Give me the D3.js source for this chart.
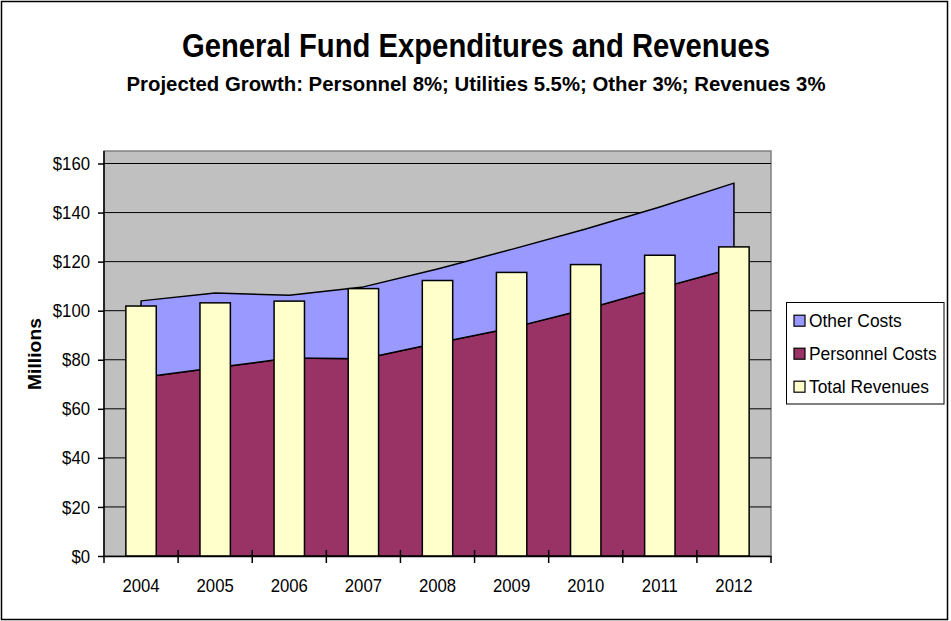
<!DOCTYPE html>
<html>
<head>
<meta charset="utf-8">
<script src="https://cdn.jsdelivr.net/npm/d3@7"></script>
<style>
  body { margin: 0; background: #fff; }
  svg { display: block; font-family: "Liberation Sans", Arial, sans-serif; }
</style>
</head>
<body>
<svg width="951" height="621"></svg>
<script>
// values in millions
var years = ["2004", "2005", "2006", "2007", "2008", "2009", "2010", "2011", "2012"];
var personnelCosts = [72.8, 76.7, 80.7, 80.4, 86.8, 93.0, 100.6, 109.2, 117.4];
var otherCosts = [31.2, 30.5, 25.6, 29.3, 30.2, 32.0, 32.7, 33.1, 34.6];
var totalRevenues = [101.9, 103.2, 103.9, 109.0, 112.3, 115.6, 118.8, 122.6, 126.0];
var yTicks = [0, 20, 40, 60, 80, 100, 120, 140, 160];
var legendNames = ["Other Costs", "Personnel Costs", "Total Revenues"];
var colors = {other: "#9999FF", personnel: "#993366", revenue: "#FFFFCC"};

var svg = d3.select("svg");

// the original text is a bit narrow, squeeze it horizontally
function squeeze(sel, k) {
  sel.each(function() {
    var w = this.getComputedTextLength();
    d3.select(this).attr("textLength", w * k).attr("lengthAdjust", "spacingAndGlyphs");
  });
}

// outer frame
svg.append("rect")
  .attr("x", 1.5).attr("y", 1.5)
  .attr("width", 946).attr("height", 618)
  .attr("fill", "#fff").attr("stroke", "#000").attr("stroke-width", 1.5);

var plotLeft = 104, plotRight = 771, plotTop = 151, plotBottom = 556;

var x = d3.scaleBand().domain(years).range([plotLeft, plotRight]);
var y = d3.scaleLinear().domain([0, 160]).range([plotBottom, 163.5]);
var cx = function(i) { return x(years[i]) + x.bandwidth() / 2; };

// plot background
svg.append("rect")
  .attr("x", plotLeft).attr("y", plotTop)
  .attr("width", plotRight - plotLeft).attr("height", plotBottom - plotTop)
  .attr("fill", "#C0C0C0").attr("stroke", "#808080").attr("stroke-width", 1.5);

// gridlines
svg.append("g").selectAll("line")
  .data(yTicks.slice(1))
  .enter().append("line")
  .attr("x1", plotLeft).attr("x2", plotRight)
  .attr("y1", d => y(d)).attr("y2", d => y(d))
  .attr("stroke", "#000").attr("stroke-width", 1);

// stacked areas
var rows = years.map((yr, i) => ({i: i, personnel: personnelCosts[i], other: otherCosts[i]}));
var stack = d3.stack().keys(["personnel", "other"])(rows);

var area = d3.area()
  .x(d => cx(d.data.i))
  .y0(d => y(d[0]))
  .y1(d => y(d[1]));

svg.append("g").selectAll("path")
  .data(stack)
  .enter().append("path")
  .attr("d", area)
  .attr("fill", d => colors[d.key])
  .attr("stroke", "#000")
  .attr("stroke-width", 1.5)
  .attr("stroke-linejoin", "round");

// revenue bars
var bw = x.bandwidth() * 0.41;
svg.append("g").selectAll("rect")
  .data(totalRevenues)
  .enter().append("rect")
  .attr("x", (d, i) => cx(i) - bw / 2)
  .attr("y", d => y(d))
  .attr("width", bw)
  .attr("height", d => y(0) - y(d))
  .attr("fill", colors.revenue)
  .attr("stroke", "#000")
  .attr("stroke-width", 1.5);

// y axis
var yAxis = svg.append("g")
  .attr("transform", "translate(" + plotLeft + ",0)")
  .call(d3.axisLeft(y).tickValues(yTicks).tickSize(6).tickPadding(8)
    .tickFormat(d => "$" + d));
yAxis.select(".domain").attr("stroke", "#000").attr("stroke-width", 1.5)
  .attr("d", "M0," + plotTop + "V" + plotBottom);
yAxis.selectAll("text").attr("font-size", 19).attr("font-family", null).attr("fill", "#000")
  .call(squeeze, 0.88);
yAxis.selectAll(".tick line").attr("stroke", "#000").attr("stroke-width", 1.5);

// x axis
var xAxis = svg.append("g")
  .attr("transform", "translate(0," + plotBottom + ")")
  .call(d3.axisBottom(x).tickSize(0).tickPadding(23));
xAxis.select(".domain").attr("stroke", "#000").attr("stroke-width", 1.5);
xAxis.selectAll("text").attr("font-size", 19).attr("font-family", null).attr("fill", "#000")
  .call(squeeze, 0.88);

// cross ticks on category boundaries
var bounds = years.map(d => x(d)).concat([plotRight]);
xAxis.selectAll(".bound")
  .data(bounds)
  .enter().append("line")
  .attr("class", "bound")
  .attr("x1", d => d).attr("x2", d => d)
  .attr("y1", (d, i) => i === 0 || i === bounds.length - 1 ? 0 : -6)
  .attr("y2", 7)
  .attr("stroke", "#000").attr("stroke-width", 1.5);

// axis title
svg.append("text")
  .attr("transform", "translate(41,354) rotate(-90)")
  .attr("text-anchor", "middle")
  .attr("font-size", 17.5).attr("font-weight", "bold")
  .attr("textLength", 72).attr("lengthAdjust", "spacingAndGlyphs")
  .text("Millions");

// titles
svg.append("text")
  .attr("x", 476).attr("y", 57)
  .attr("text-anchor", "middle")
  .attr("font-size", 33).attr("font-weight", "bold")
  .attr("textLength", 588).attr("lengthAdjust", "spacingAndGlyphs")
  .text("General Fund Expenditures and Revenues");

svg.append("text")
  .attr("x", 476).attr("y", 91)
  .attr("text-anchor", "middle")
  .attr("font-size", 21).attr("font-weight", "bold")
  .attr("textLength", 699).attr("lengthAdjust", "spacingAndGlyphs")
  .text("Projected Growth: Personnel 8%; Utilities 5.5%; Other 3%; Revenues 3%");

// legend
var legend = svg.append("g").attr("transform", "translate(786.5,302.5)");
legend.append("rect")
  .attr("width", 157.5).attr("height", 101.5)
  .attr("fill", "#fff").attr("stroke", "#000").attr("stroke-width", 1);

var legendColors = [colors.other, colors.personnel, colors.revenue];
var item = legend.selectAll(".item")
  .data(legendNames)
  .enter().append("g")
  .attr("class", "item")
  .attr("transform", (d, i) => "translate(0," + (18.2 + i * 33) + ")");
item.append("rect")
  .attr("x", 7.5).attr("y", -5.5)
  .attr("width", 11).attr("height", 11)
  .attr("fill", (d, i) => legendColors[i])
  .attr("stroke", "#000").attr("stroke-width", 1.2);
item.append("text")
  .attr("x", 22.5).attr("y", 6.5)
  .attr("font-size", 18.5)
  .text(d => d)
  .call(squeeze, 0.94);
</script>
</body>
</html>
